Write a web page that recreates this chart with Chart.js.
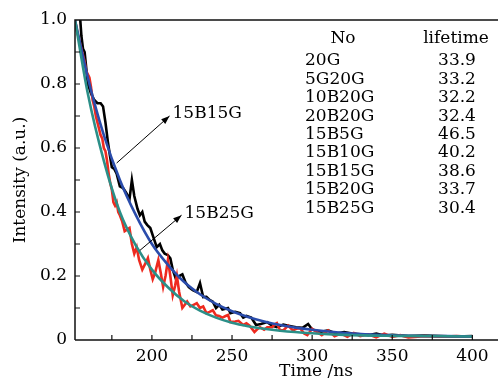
<!DOCTYPE html>
<html>
<head>
<meta charset="utf-8">
<script src="https://cdn.jsdelivr.net/npm/chart.js@4/dist/chart.umd.min.js"></script>
<style>
  html, body { margin: 0; padding: 0; background: #fff; }
  canvas { display: block; }
</style>
</head>
<body>
<canvas id="decay" width="498" height="383"></canvas>
<script>
const blackT = [152, 154, 155, 156, 157, 158, 159, 160, 162, 164, 166, 168, 169.5, 171, 172.5, 174, 175, 176.5, 178, 180, 182, 184, 186, 187.5, 189, 191, 192.5, 194, 195.5, 197, 199, 201, 203, 205, 206.5, 208, 210, 211.5, 213, 215, 217, 219, 221, 223, 225.5, 228, 230, 232, 234, 236, 238, 240, 242, 244, 246, 247.5, 249, 252, 255, 257, 259, 262, 265, 268, 272, 275, 278, 282, 286, 290, 294, 297.5, 300, 305, 310, 315, 320, 325, 330, 335, 340, 345, 350, 360, 370, 380, 390, 400];
const blackI = [1.0, 1.03, 1.02, 0.95, 0.91, 0.90, 0.85, 0.80, 0.77, 0.75, 0.74, 0.74, 0.73, 0.68, 0.62, 0.57, 0.54, 0.535, 0.52, 0.48, 0.475, 0.46, 0.44, 0.50, 0.45, 0.41, 0.39, 0.40, 0.37, 0.36, 0.35, 0.32, 0.29, 0.30, 0.28, 0.27, 0.265, 0.255, 0.22, 0.19, 0.20, 0.205, 0.18, 0.165, 0.156, 0.15, 0.178, 0.134, 0.135, 0.125, 0.12, 0.10, 0.11, 0.095, 0.098, 0.10, 0.084, 0.088, 0.084, 0.07, 0.075, 0.07, 0.047, 0.05, 0.056, 0.045, 0.04, 0.048, 0.044, 0.04, 0.038, 0.05, 0.033, 0.025, 0.03, 0.02, 0.025, 0.02, 0.018, 0.015, 0.02, 0.014, 0.016, 0.012, 0.014, 0.012, 0.011, 0.012];

const redT = [152, 153.5, 155, 156.5, 158, 159, 160, 161, 162, 163, 164, 165, 166, 167, 168, 169, 170, 171, 172, 173, 174, 175, 176, 177, 178, 179, 180, 181.5, 183, 184.5, 186, 187.5, 189, 190.5, 192, 194, 196, 197.5, 199, 200.5, 202, 204, 205.5, 207, 208.5, 210, 211.5, 213, 214.5, 215.6, 217, 219, 220.5, 222, 224, 226, 228, 230, 232, 234, 236, 238, 240, 242, 244, 246, 247.5, 249, 252, 254, 257, 259, 261, 264, 266, 267.5, 270, 272, 275, 277, 278, 280, 282, 285, 288, 290, 292.5, 295, 297, 300, 303, 306, 310, 314, 318, 322, 326, 330, 335, 340, 345, 350, 355, 360, 370, 380, 390, 400];
const redI = [1.0, 0.96, 0.93, 0.90, 0.87, 0.84, 0.83, 0.82, 0.79, 0.75, 0.73, 0.70, 0.68, 0.66, 0.64, 0.63, 0.60, 0.59, 0.56, 0.52, 0.49, 0.47, 0.43, 0.42, 0.43, 0.40, 0.39, 0.37, 0.34, 0.345, 0.35, 0.30, 0.27, 0.29, 0.25, 0.22, 0.24, 0.256, 0.22, 0.19, 0.21, 0.25, 0.21, 0.166, 0.20, 0.25, 0.20, 0.14, 0.17, 0.20, 0.15, 0.10, 0.11, 0.12, 0.105, 0.11, 0.115, 0.10, 0.105, 0.084, 0.088, 0.093, 0.077, 0.075, 0.07, 0.075, 0.078, 0.056, 0.058, 0.06, 0.047, 0.052, 0.045, 0.025, 0.035, 0.04, 0.032, 0.04, 0.04, 0.05, 0.053, 0.03, 0.03, 0.045, 0.03, 0.035, 0.037, 0.02, 0.015, 0.035, 0.025, 0.015, 0.03, 0.012, 0.02, 0.01, 0.022, 0.012, 0.018, 0.008, 0.02, 0.01, 0.015, 0.008, 0.012, 0.01, 0.012, 0.01];

// fitted curves
const fitT = [152, 160, 170, 180, 190, 200, 210, 220, 230, 240, 250, 260, 270, 280, 300, 320, 350, 400];
const blueFit = [1.0, 0.82, 0.64, 0.50, 0.39, 0.30, 0.235, 0.182, 0.143, 0.113, 0.09, 0.072, 0.058, 0.047, 0.032, 0.022, 0.015, 0.011];
const tealFit = [1.0, 0.77, 0.56, 0.40, 0.295, 0.22, 0.165, 0.122, 0.092, 0.07, 0.054, 0.043, 0.035, 0.029, 0.021, 0.016, 0.013, 0.011];

const xTicks = [200, 250, 300, 350, 400];
const yTicks = [0, 0.2, 0.4, 0.6, 0.8, 1.0];
const yTickLabels = ["0", "0.2", "0.4", "0.6", "0.8", "1.0"];

const sampleNames = ["20G", "5G20G", "10B20G", "20B20G", "15B5G", "15B10G", "15B15G", "15B20G", "15B25G"];
const lifetimes = ["33.9", "33.2", "32.2", "32.4", "46.5", "40.2", "38.6", "33.7", "30.4"];

// arrow labels: [text, arrow start t, start I, tip t, tip I]
const arrows = [
  ["15B15G", 178, 0.553, 211, 0.70],
  ["15B25G", 192.5, 0.28, 218.5, 0.39],
];

const serif = "'DejaVu Serif', serif";
const pts = (t, v) => t.map((x, i) => ({ x: x, y: v[i] }));

const frame = {
  id: "frame",
  afterDraw(chart) {
    const ctx = chart.ctx;
    const a = chart.chartArea;
    const xs = chart.scales.x;
    const ys = chart.scales.y;
    ctx.save();
    ctx.strokeStyle = "#111";
    ctx.lineWidth = 1.5;
    ctx.beginPath();
    ctx.moveTo(a.left, a.bottom);
    ctx.lineTo(a.left, a.top);
    ctx.lineTo(a.right, a.top);
    ctx.moveTo(a.left, a.bottom);
    ctx.lineTo(a.right, a.bottom);
    ctx.stroke();
    // inward ticks
    ctx.lineWidth = 1.2;
    ctx.beginPath();
    for (let v = 175; v <= 400; v += 25) {
      const px = xs.getPixelForValue(v);
      ctx.moveTo(px, a.bottom);
      ctx.lineTo(px, a.bottom - 5);
    }
    for (let k = 1; k <= 9; k++) {
      const py = ys.getPixelForValue(k / 10);
      ctx.moveTo(a.left, py);
      ctx.lineTo(a.left + 5, py);
    }
    ctx.stroke();

    ctx.fillStyle = "#000";
    ctx.strokeStyle = "#000";
    ctx.font = "17px " + serif;
    ctx.textBaseline = "middle";

    // x axis title, sits right of centre in the original crop
    ctx.textAlign = "center";
    ctx.fillText("Time /ns", 316, 372);

    // arrows with labels
    ctx.lineWidth = 1;
    ctx.textAlign = "left";
    arrows.forEach(([txt, t0, i0, t1, i1]) => {
      const x0 = xs.getPixelForValue(t0), y0 = ys.getPixelForValue(i0);
      const x1 = xs.getPixelForValue(t1), y1 = ys.getPixelForValue(i1);
      const ang = Math.atan2(y1 - y0, x1 - x0);
      ctx.beginPath();
      ctx.moveTo(x0, y0);
      ctx.lineTo(x1, y1);
      ctx.stroke();
      ctx.beginPath();
      ctx.moveTo(x1, y1);
      ctx.lineTo(x1 - 9 * Math.cos(ang - 0.35), y1 - 9 * Math.sin(ang - 0.35));
      ctx.lineTo(x1 - 9 * Math.cos(ang + 0.35), y1 - 9 * Math.sin(ang + 0.35));
      ctx.closePath();
      ctx.fill();
      ctx.fillText(txt, x1 + 3, y1 - 2);
    });

    // lifetime table
    ctx.textAlign = "center";
    ctx.fillText("No", 343, a.top + 19);
    ctx.fillText("lifetime", 456, a.top + 19);
    sampleNames.forEach((n, i) => {
      const y = a.top + 41 + i * 18.4;
      ctx.textAlign = "left";
      ctx.fillText(n, 305, y);
      ctx.textAlign = "center";
      ctx.fillText(lifetimes[i], 457, y);
    });
    ctx.restore();
  },
};

new Chart(document.getElementById("decay"), {
  type: "line",
  data: {
    datasets: [
      { data: pts(fitT, tealFit), borderColor: "#2b8f88", borderWidth: 2.6, cubicInterpolationMode: "monotone" },
      { data: pts(fitT, blueFit), borderColor: "#2a4cab", borderWidth: 2.6, cubicInterpolationMode: "monotone" },
      { data: pts(redT, redI), borderColor: "#ee2a1f", borderWidth: 2.6 },
      { data: pts(blackT, blackI), borderColor: "#000000", borderWidth: 2.6 },
    ],
  },
  options: {
    responsive: false,
    animation: false,
    events: [],
    devicePixelRatio: 1,
    layout: { padding: { top: 20, right: 0, left: 0, bottom: 0 } },
    elements: { point: { radius: 0 }, line: { tension: 0 } },
    plugins: { legend: { display: false }, tooltip: { enabled: false } },
    scales: {
      x: {
        type: "linear",
        min: 152,
        max: 416,
        afterBuildTicks: (s) => { s.ticks = xTicks.map((v) => ({ value: v })); },
        afterFit: (s) => { s.height = 43; },
        grid: { display: false, drawTicks: false },
        border: { display: false },
        ticks: { color: "#000", padding: 6, maxRotation: 0, font: { family: serif, size: 17 } },
      },
      y: {
        min: 0,
        max: 1,
        afterBuildTicks: (s) => { s.ticks = yTicks.map((v) => ({ value: v })); },
        afterFit: (s) => { s.width = 75; },
        grid: { display: false, drawTicks: false },
        border: { display: false },
        ticks: {
          color: "#000",
          padding: 8,
          font: { family: serif, size: 17 },
          callback: (v) => yTickLabels[yTicks.indexOf(v)],
        },
        title: { display: true, text: "Intensity (a.u.)", color: "#000", padding: { top: 10, bottom: 0 }, font: { family: serif, size: 17 } },
      },
    },
  },
  plugins: [frame],
});
</script>
</body>
</html>
